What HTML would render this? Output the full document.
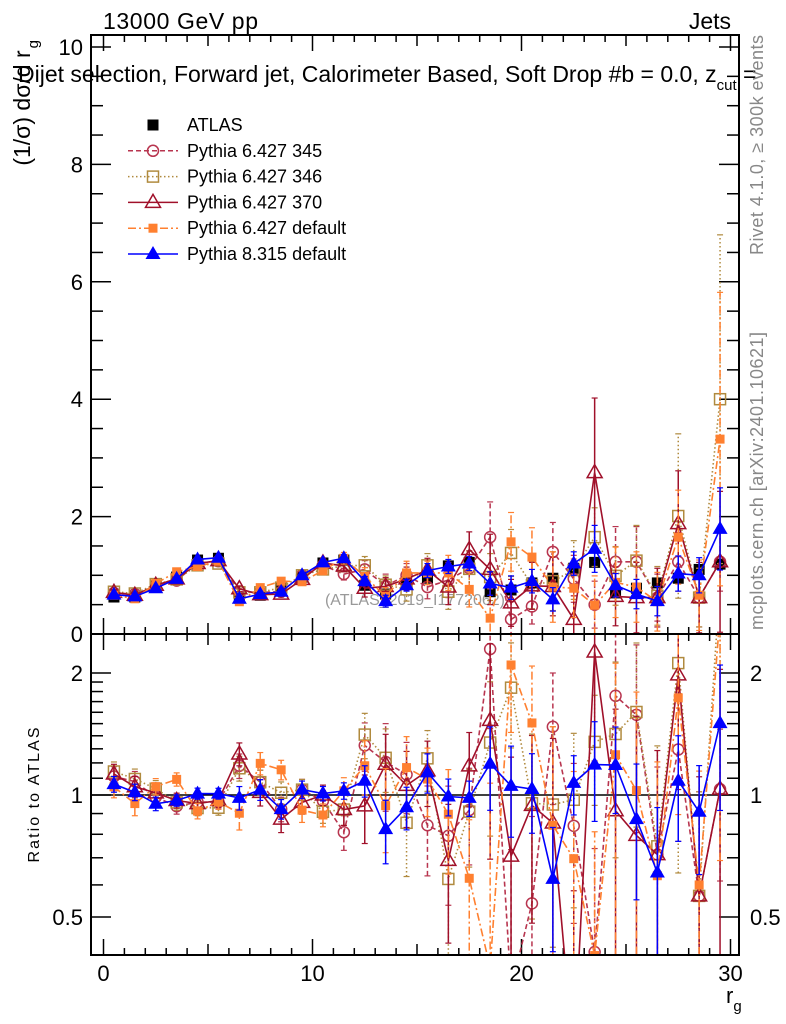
<!DOCTYPE html>
<html><head><meta charset="utf-8"><style>
html,body{margin:0;padding:0;background:#fff;overflow:hidden;width:786px;height:1024px;}
svg{display:block;}
svg text{font-family:"Liberation Sans",sans-serif;}
</style></head><body>
<svg id="c" width="786" height="1024" xmlns="http://www.w3.org/2000/svg">
<defs>
<clipPath id="cm"><rect x="91" y="35" width="648" height="599"/></clipPath>
<clipPath id="cr"><rect x="91" y="634" width="648" height="321"/></clipPath>
</defs>
<text x="103" y="29" font-size="23" textLength="155">13000 GeV pp</text>
<text x="731" y="29" font-size="23" text-anchor="end">Jets</text>
<text x="30" y="40" font-size="23" text-anchor="end" transform="rotate(-90 30 40)">(1/σ) dσ/d r<tspan font-size="15" dy="8" dx="2">g</tspan></text>
<text x="18" y="82" font-size="23">Dijet selection, Forward jet, Calorimeter Based, Soft Drop #b = 0.0, z<tspan font-size="15" dy="8">cut</tspan><tspan dy="-8"> =</tspan></text>
<text x="763" y="255" font-size="18" fill="#888" textLength="220" transform="rotate(-90 763 255)">Rivet 4.1.0, ≥ 300k events</text>
<text x="763" y="630" font-size="18" fill="#888" textLength="298" transform="rotate(-90 763 630)">mcplots.cern.ch [arXiv:2401.10621]</text>
<text x="415" y="605" font-size="16" fill="#999" text-anchor="middle" textLength="180">(ATLAS_2019_I1772062)</text>
<text x="39" y="795" font-size="16" text-anchor="middle" textLength="135" transform="rotate(-90 39 795)">Ratio to ATLAS</text>
<text x="726" y="1003" font-size="22">r<tspan font-size="15" dy="8">g</tspan></text>
<g id="axes"></g>
<g id="mainplot" clip-path="url(#cm)"></g>
<g id="ratioplot" clip-path="url(#cr)"></g>
<g id="legend"></g>
<rect x="91" y="35" width="648" height="599" fill="none" stroke="#000" stroke-width="2"/>
<rect x="91" y="634" width="648" height="321" fill="none" stroke="#000" stroke-width="2"/>
</svg>
<script>
const xCenters=[0.5,1.5,2.5,3.5,4.5,5.5,6.5,7.5,8.5,9.5,10.5,11.5,12.5,13.5,14.5,15.5,16.5,17.5,18.5,19.5,20.5,21.5,22.5,23.5,24.5,25.5,26.5,27.5,28.5,29.5];
const atlas=[0.63,0.63,0.82,0.97,1.26,1.29,0.61,0.66,0.78,0.97,1.21,1.26,0.83,0.68,0.89,0.95,1.16,1.22,0.72,0.75,0.87,0.95,1.12,1.22,0.70,0.78,0.87,0.95,1.10,1.19];
const atlasErr=[0.03,0.03,0.03,0.03,0.04,0.04,0.03,0.03,0.03,0.04,0.04,0.05,0.05,0.05,0.05,0.06,0.06,0.06,0.06,0.06,0.07,0.07,0.07,0.08,0.08,0.08,0.08,0.09,0.1,0.1];
const p345=[0.70,0.68,0.81,0.91,1.21,1.24,0.72,0.71,0.72,1.00,1.17,1.02,1.10,0.82,1.00,0.80,0.92,1.12,1.65,0.25,0.47,1.40,0.94,0.50,1.23,1.23,0.62,1.23,0.62,1.23];
const e345=[0.04,0.04,0.04,0.04,0.05,0.05,0.05,0.05,0.05,0.06,0.07,0.1,0.15,0.2,0.2,0.2,0.3,0.3,0.6,0.3,0.3,0.5,0.4,0.4,0.6,0.6,0.4,0.5,0.5,0.5];
const p346=[0.72,0.69,0.85,0.93,1.17,1.20,0.71,0.71,0.79,1.00,1.10,1.16,1.17,0.84,0.76,1.17,0.72,1.11,0.97,1.38,0.83,0.90,1.09,1.65,0.99,1.25,0.65,2.01,0.62,4.00];
const e346=[0.04,0.04,0.04,0.04,0.05,0.05,0.05,0.05,0.05,0.06,0.07,0.1,0.15,0.15,0.2,0.2,0.3,0.3,0.4,0.4,0.4,0.5,0.5,0.5,0.5,0.6,0.5,1.4,0.5,2.8];
const p370=[0.71,0.66,0.83,0.94,1.20,1.25,0.77,0.67,0.68,0.93,1.21,1.16,0.78,0.81,0.94,1.09,0.80,1.44,1.10,0.53,0.82,0.81,0.25,2.75,0.64,0.62,0.62,1.88,0.62,1.23];
const e370=[0.04,0.04,0.04,0.04,0.05,0.05,0.05,0.05,0.05,0.06,0.07,0.1,0.15,0.15,0.2,0.2,0.3,0.3,0.6,0.4,0.4,0.5,0.4,1.27,0.5,0.6,0.5,0.9,0.6,1.2];
const pDef=[0.66,0.60,0.86,1.06,1.15,1.24,0.55,0.79,0.90,0.89,1.08,1.29,0.98,0.64,1.04,1.04,1.04,0.76,0.27,1.57,1.31,0.80,0.78,0.49,0.88,0.80,0.55,1.65,0.66,3.32];
const eDef=[0.04,0.04,0.04,0.04,0.05,0.05,0.05,0.05,0.05,0.06,0.07,0.1,0.15,0.15,0.2,0.2,0.3,0.3,0.5,0.5,0.5,0.6,0.5,0.5,0.6,0.6,0.5,0.8,0.6,2.5];
const p8=[0.67,0.64,0.78,0.94,1.27,1.30,0.60,0.68,0.72,1.00,1.22,1.29,0.90,0.56,0.83,1.08,1.15,1.20,0.86,0.79,0.90,0.59,1.20,1.45,0.83,0.68,0.56,1.03,1.00,1.79];
const e8=[0.03,0.03,0.03,0.03,0.04,0.04,0.04,0.04,0.04,0.05,0.05,0.06,0.08,0.1,0.1,0.12,0.12,0.12,0.2,0.2,0.2,0.2,0.2,0.4,0.2,0.25,0.25,0.3,0.3,0.7];
const mainTicks=[0,2,4,6,8,10];
const ratioTicks=[0.5,1,2];
const xTicks=[0,10,20,30];

const NS="http://www.w3.org/2000/svg";
const X=v=>103.5+20.9*v;
const YM=v=>634-58.7*v;
const YR=r=>795-122*Math.log2(Math.max(r,1e-3));
function mk(tag,attrs,parent){const e=document.createElementNS(NS,tag);for(const k in attrs)e.setAttribute(k,attrs[k]);parent.appendChild(e);return e;}
const axes=document.getElementById('axes');
for(let v=0;v<=31;v++){
  const x=X(v);if(x>738)continue;const big=v%10===0,mid=v%5===0;
  const L=big?16:(mid?11:7);
  [[955,-1],[634,1],[634,-1],[35,1]].forEach(([y,d])=>{
    const t=mk('line',{x1:x,x2:x,y1:y,y2:y+d*L,stroke:'#000','stroke-width':1.5},axes);
    
    
  });
}
xTicks.forEach(v=>{const t=mk('text',{x:X(v),y:981,'font-size':22,'text-anchor':'middle'},axes);t.textContent=v;

});
for(let v=0;v<=10.01;v+=0.5){const y=YM(v);const big=Math.abs(v-Math.round(v/2)*2)<0.01;const L=big?20:12;
  [[91,1],[739,-1]].forEach(([x,d])=>{const t=mk('line',{x1:x,x2:x+d*L,y1:y,y2:y,stroke:'#000','stroke-width':1.5},axes);
  
  });}
mainTicks.forEach(v=>{const t=mk('text',{x:83,y:YM(v)+8,'font-size':22,'text-anchor':'end'},axes);t.textContent=v;

});
[0.4,0.5,0.6,0.7,0.8,0.9,1,1.1,1.2,1.3,1.4,1.5,1.6,1.7,1.8,1.9,2].forEach(r=>{const y=YR(r);if(y<634||y>955)return;
  const big=ratioTicks.includes(r);const L=big?20:12;
  [[91,1],[739,-1]].forEach(([x,d])=>{const t=mk('line',{x1:x,x2:x+d*L,y1:y,y2:y,stroke:'#000','stroke-width':1.5},axes);
  
  });});
ratioTicks.forEach(r=>{[[83,'end'],[750,'start']].forEach(([x,a])=>{const t=mk('text',{x:x,y:YR(r)+8,'font-size':22,'text-anchor':a},axes);t.textContent=r;

});});
const ul=mk('line',{x1:91,x2:739,y1:YR(1),y2:YR(1),stroke:'#000','stroke-width':1.5},axes);



function marker(g,type,x,y,color){
  const s=5.5;let e;
  if(type==='fsq')e=mk('rect',{x:x-s,y:y-s,width:2*s,height:2*s,fill:color},g);
  else if(type==='osq')e=mk('rect',{x:x-s,y:y-s,width:2*s,height:2*s,fill:'none',stroke:color,'stroke-width':1.5},g);
  else if(type==='oc')e=mk('circle',{cx:x,cy:y,r:s,fill:'none',stroke:color,'stroke-width':1.5},g);
  else if(type==='otr')e=mk('polygon',{points:`${x},${y-8} ${x-7.5},${y+5} ${x+7.5},${y+5}`,fill:'none',stroke:color,'stroke-width':1.5},g);
  else if(type==='ftr')e=mk('polygon',{points:`${x},${y-8} ${x-7.5},${y+5} ${x+7.5},${y+5}`,fill:color},g);
  else if(type==='fsqs')e=mk('rect',{x:x-4.5,y:y-4.5,width:9,height:9,fill:color},g);
  return e;
}
const series=[
 {name:'p345',vals:p345,err:e345,color:'#b8354f',dash:'5,3',mk:'oc'},
 {name:'p346',vals:p346,err:e346,color:'#b08a3e',dash:'1.5,2.5',mk:'osq'},
 {name:'p370',vals:p370,err:e370,color:'#a0102a',dash:'',mk:'otr'},
 {name:'pdef',vals:pDef,err:eDef,color:'#ff8030',dash:'8,3,2,3',mk:'fsqs'},
 {name:'p8',vals:p8,err:e8,color:'#0000ff',dash:'',mk:'ftr'}
];
const mainG=document.getElementById('mainplot'),ratG=document.getElementById('ratioplot');
const ag=mk('g',{},mainG);


atlas.forEach((v,i)=>{const x=X(xCenters[i]);
  mk('line',{x1:x,x2:x,y1:YM(v-atlasErr[i]),y2:YM(v+atlasErr[i]),stroke:'#000','stroke-width':1.5},ag);
  const m=marker(ag,'fsq',x,YM(v),'#000');
  
  });
series.forEach(s=>{
  [[mainG,(v)=>YM(v),(i)=>s.vals[i],(i)=>s.err[i]],[ratG,(v)=>YR(v),(i)=>s.vals[i]/atlas[i],(i)=>s.err[i]/atlas[i]]].forEach(([G,Y,val,er],pi)=>{
    const g=mk('g',{},G);
    
    
    const pts=xCenters.map((c,i)=>X(c)+','+Y(val(i))).join(' ');
    const pl=mk('polyline',{points:pts,fill:'none',stroke:s.color,'stroke-width':1.6,'stroke-dasharray':s.dash},g);
    
    
    xCenters.forEach((c,i)=>{const x=X(c);const v=val(i),e=er(i);
      const lo=pi?Math.max(v-e,0.01):v-e;
      mk('line',{x1:x,x2:x,y1:Y(lo),y2:Y(v+e),stroke:s.color,'stroke-width':1.5,'stroke-dasharray':s.dash},g);
      mk('line',{x1:x-3,x2:x+3,y1:Y(v+e),y2:Y(v+e),stroke:s.color,'stroke-width':1.2},g);
      mk('line',{x1:x-3,x2:x+3,y1:Y(lo),y2:Y(lo),stroke:s.color,'stroke-width':1.2},g);
      const m=marker(g,s.mk,x,Y(v),s.color);
      
      
    });
  });
});
const lg=document.getElementById('legend');


const legItems=[['ATLAS',null],['Pythia 6.427 345',series[0]],['Pythia 6.427 346',series[1]],['Pythia 6.427 370',series[2]],['Pythia 6.427 default',series[3]],['Pythia 8.315 default',series[4]]];
legItems.forEach(([label,s],k)=>{
  const y=125+25.8*k;const g=mk('g',{},lg);
  
  
  if(s){mk('line',{x1:128,x2:178,y1:y,y2:y,stroke:s.color,'stroke-width':1.5,'stroke-dasharray':s.dash},g);marker(g,s.mk,153,y,s.color);}
  else marker(g,'fsq',153,y,'#000');
  const t=mk('text',{x:187,y:y+6,'font-size':18},g);t.textContent=label;
});
</script>
</body></html>
